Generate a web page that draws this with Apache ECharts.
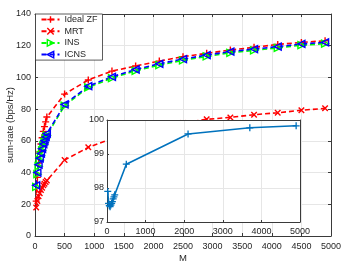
<!DOCTYPE html>
<html>
<head>
<meta charset="utf-8">
<script src="https://cdn.jsdelivr.net/npm/echarts@6/dist/echarts.min.js"></script>
<style>html,body{margin:0;padding:0;background:#fff;}#c{width:350px;height:263px;}</style>
</head>
<body>
<div id="c"></div>
<script>
// ---- data ----
const M = [20,40,60,80,100,120,140,160,180,200,500,900,1300,1700,2100,2500,2900,3300,3700,4100,4500,4900];
const idealZF = [22,37,46,53,58,62,66,69,72,75,89.5,98.4,104,107.2,110.3,113.1,115.2,117.3,119,120.8,122.1,123.1];
const mrt = [18,22,25,27,29,30.5,32,33,34,35,47.9,55.9,61.5,65.5,68.6,71.3,73.6,74.8,76.5,77.7,79.3,80.5];
const icns = [32,40,45,49,52,55,58,60,62.5,64.5,83,94.5,100.4,105,108.6,111.6,114.1,116.3,117.9,119.4,121.1,122.1];
const ins = [31,39,44,48,51,54,57,59,61.5,63.5,82.2,93.7,99.6,104.2,107.8,110.8,113.3,115.5,117.1,118.6,120.3,121.3];
const insetM = [20,40,60,80,100,120,140,160,180,200,500,2100,3700,4900];
const insetVal = [97.9,97.55,97.48,97.45,97.5,97.55,97.6,97.68,97.74,97.8,98.7,99.59,99.77,99.83];
const xTicksMain = {min:0,max:5000,interval:500};
const yTicksMain = {min:0,max:140,interval:20};
const xTicksInset = {min:0,max:5000,interval:1000};
const yTicksInset = {min:97,max:100,interval:1};
const names = ['Ideal ZF','MRT','INS','ICNS'];
const colors = ['#ff0000','#ff0000','#00ff00','#0000ff'];

const pair = (xs, ys) => xs.map((x,i)=>[x,ys[i]]);

const PLUS = 'path://M5,0L5,10M0,5L10,5';
const CROSS = 'path://M0,0L10,10M10,0L0,10';
const RIGHT = 'path://M0,0L10,5L0,10Z';
const LEFT = 'path://M10,0L0,5L10,10Z';

const axCol = '#3a3a3a';
const font = 'Liberation Sans';
const FS = 9;

function mainSeries(name, data, color, symbol, size) {
  return {
    name, type:'line', xAxisIndex:0, yAxisIndex:0, data,
    symbol, symbolSize:size, z:2,
    lineStyle:{color, width:1.6, type:[5,3]},
    itemStyle:{color:'rgba(0,0,0,0)', borderColor:color, borderWidth:1.4},
    emphasis:{disabled:true}, animation:false
  };
}

const chart = echarts.init(document.getElementById('c'), null, {renderer:'canvas'});
const G0 = {left:35, top:14, width:296, height:222, containLabel:false, outerBoundsMode:'none'};
const G1 = {left:107, top:120, width:193, height:102, containLabel:false, outerBoundsMode:'none'};
const fmt = v => String(v);

function valAxis(extra){ return Object.assign({
  type:'value', axisLine:{show:true, onZero:false, lineStyle:{color:axCol, width:1}},
  axisTick:{show:true, inside:true, length:3, lineStyle:{color:axCol}},
  axisLabel:{fontSize:FS, color:'#262626', fontFamily:font, margin:6, formatter:fmt},
  splitLine:{show:true, lineStyle:{color:'#e6e6e6', width:1}}
}, extra); }

chart.setOption({
  animation:false,
  textStyle:{fontFamily:font},
  grid:[Object.assign({}, G0), Object.assign({}, G1)],
  graphic:[{type:'rect', shape:{x:G1.left, y:G1.top, width:G1.width, height:G1.height}, style:{fill:'#fff'}, z:3}],
  legend:{
    orient:'vertical', left:35.5, top:14,
    data:names.map((n,i)=>({name:n, itemStyle:{color:'rgba(0,0,0,0)', borderColor:colors[i], borderWidth:1.4}})),
    padding:[1,5,1,5], itemGap:2.7, itemWidth:18, itemHeight:8,
    backgroundColor:'#fff', borderColor:'#333', borderWidth:0.8, borderRadius:0,
    textStyle:{fontSize:FS, color:'#262626', fontFamily:font, lineHeight:8}, z:10
  },
  xAxis:[
    valAxis(Object.assign({gridIndex:0, position:'bottom', name:'M', nameLocation:'middle', nameGap:17, nameMoveOverlap:false,
      nameTextStyle:{fontSize:FS+0.5, color:'#262626', fontFamily:font, verticalAlign:'top'}}, xTicksMain)),
    valAxis(Object.assign({gridIndex:0, position:'top', axisLabel:{show:false}, splitLine:{show:false}}, xTicksMain)),
    valAxis(Object.assign({gridIndex:1, position:'bottom', z:4, axisTick:{show:true,inside:true,length:2,lineStyle:{color:axCol}},
      axisLabel:{fontSize:FS, color:'#262626', fontFamily:font, margin:5, formatter:fmt}}, xTicksInset)),
    valAxis(Object.assign({gridIndex:1, position:'top', z:4, axisTick:{show:false}, axisLabel:{show:false}, splitLine:{show:false}}, xTicksInset))
  ],
  yAxis:[
    valAxis(Object.assign({gridIndex:0, position:'left', name:'sum-rate (bps/Hz)', nameLocation:'middle', nameGap:20, nameMoveOverlap:false,
      nameTextStyle:{fontSize:FS+0.5, color:'#262626', fontFamily:font}, axisLabel:{fontSize:FS, color:'#262626', fontFamily:font, margin:4, formatter:fmt}}, yTicksMain)),
    valAxis(Object.assign({gridIndex:0, position:'right', axisLabel:{show:false}, splitLine:{show:false}}, yTicksMain)),
    valAxis(Object.assign({gridIndex:1, position:'left', z:4, axisTick:{show:true,inside:true,length:2,lineStyle:{color:axCol}},
      axisLabel:{fontSize:FS, color:'#262626', fontFamily:font, margin:3, formatter:fmt}}, yTicksInset)),
    valAxis(Object.assign({gridIndex:1, position:'right', z:4, axisTick:{show:false}, axisLabel:{show:false}, splitLine:{show:false}}, yTicksInset))
  ],
  series:[
    mainSeries('Ideal ZF', pair(M, idealZF), colors[0], PLUS, 7),
    mainSeries('MRT', pair(M, mrt), colors[1], CROSS, 5.5),
    mainSeries('INS', pair(M, ins), colors[2], RIGHT, 7),
    mainSeries('ICNS', pair(M, icns), colors[3], LEFT, 7),
    {
      name:'inset', type:'line', xAxisIndex:2, yAxisIndex:2, data:pair(insetM, insetVal),
      symbol:PLUS, symbolSize:7, z:5,
      lineStyle:{color:'#0072bd', width:1.6},
      itemStyle:{color:'rgba(0,0,0,0)', borderColor:'#0072bd', borderWidth:1.3},
      emphasis:{disabled:true}, animation:false
    }
  ]
});
</script>
</body>
</html>
